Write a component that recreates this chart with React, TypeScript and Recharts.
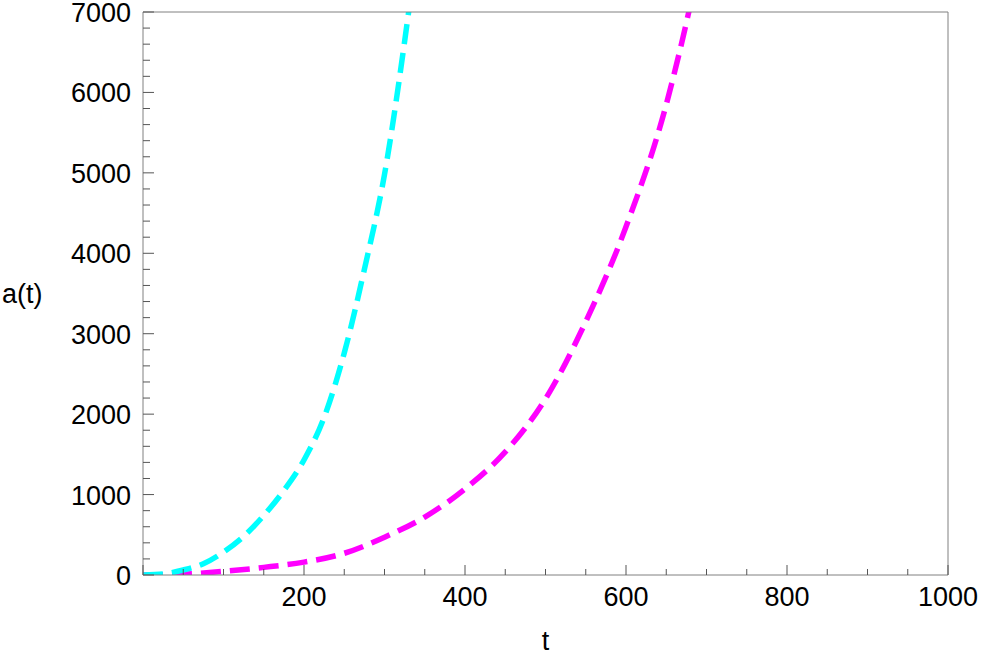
import { LineChart, Line, XAxis, YAxis, Label } from 'recharts'

const tCyan = [0, 25, 50, 75, 100, 125, 150, 175, 200, 225, 250, 275, 300, 330, 340]
const aCyan = [0, 12, 62, 140, 285, 480, 740, 1050, 1430, 1960, 2760, 3800, 4980, 7000, 7750]
const tMagenta = [0, 50, 100, 150, 200, 250, 300, 350, 400, 450, 500, 550, 600, 650, 678, 690]
const aMagenta = [0, 10, 45, 95, 160, 270, 470, 720, 1070, 1530, 2190, 3150, 4330, 5850, 7000, 7550]

const xTicks = Array.from({ length: 21 }, (_, i) => i * 50)
const yTicks = Array.from({ length: 36 }, (_, i) => i * 200)
const xLabels = [200, 400, 600, 800, 1000]
const yLabels = [0, 1000, 2000, 3000, 4000, 5000, 6000, 7000]

const cyanData = tCyan.map((t, i) => ({ t, a: aCyan[i] }))
const magentaData = tMagenta.map((t, i) => ({ t, a: aMagenta[i] }))

const FONT = '"Liberation Sans", Arial, sans-serif'
const FRAME = '#808080'
const TICK = '#555'

const BottomTick = (props: any) => {
  const { x, y, payload } = props
  const v = payload.value
  const major = v % 200 === 0
  return (
    <g>
      <line x1={x} x2={x} y1={y} y2={y - (major ? 10 : 6)} stroke={TICK} strokeWidth={1} />
      {xLabels.includes(v) && (
        <text x={x} y={y + 31} textAnchor="middle" fontSize={27} fontFamily={FONT} fill="#000">
          {v}
        </text>
      )}
    </g>
  )
}

const TopTick = (props: any) => {
  const { x, y, payload } = props
  const major = payload.value % 200 === 0
  return <line x1={x} x2={x} y1={y} y2={y + (major ? 10 : 6)} stroke={TICK} strokeWidth={1} />
}

const LeftTick = (props: any) => {
  const { x, y, payload } = props
  const v = payload.value
  const major = v % 1000 === 0
  return (
    <g>
      <line x1={x} x2={x + (major ? 11 : 7)} y1={y} y2={y} stroke={TICK} strokeWidth={1} />
      {yLabels.includes(v) && (
        <text x={x - 12} y={y + 10} textAnchor="end" fontSize={27} fontFamily={FONT} fill="#000">
          {v}
        </text>
      )}
    </g>
  )
}

const RightTick = (props: any) => {
  const { x, y, payload } = props
  const major = payload.value % 1000 === 0
  return <line x1={x} x2={x - (major ? 11 : 7)} y1={y} y2={y} stroke={TICK} strokeWidth={1} />
}

export default function App() {
  return (
    <div style={{ position: 'absolute', left: 0, top: 0, background: '#fff' }}>
      <LineChart width={981} height={654} margin={{ top: 0, right: 0, bottom: 0, left: 0 }}>
        <XAxis
          dataKey="t"
          type="number"
          domain={[0, 1000]}
          ticks={xTicks}
          interval={0}
          height={79}
          tickSize={0}
          tickMargin={0}
          tickLine={false}
          axisLine={{ stroke: FRAME }}
          tick={<BottomTick />}
          allowDataOverflow
        >
          <Label value="t" position="insideBottom" offset={4} fontSize={27} fontFamily={FONT} fill="#000" />
        </XAxis>
        <XAxis
          xAxisId="top"
          orientation="top"
          dataKey="t"
          type="number"
          domain={[0, 1000]}
          ticks={xTicks}
          interval={0}
          height={12}
          tickSize={0}
          tickMargin={0}
          tickLine={false}
          axisLine={{ stroke: FRAME }}
          tick={<TopTick />}
        />
        <YAxis
          type="number"
          domain={[0, 7000]}
          ticks={yTicks}
          interval={0}
          width={143}
          tickSize={0}
          tickMargin={0}
          tickLine={false}
          axisLine={{ stroke: FRAME }}
          tick={<LeftTick />}
          allowDataOverflow
        >
          <Label value="a(t)" position="insideLeft" offset={2} fontSize={27} fontFamily={FONT} fill="#000" />
        </YAxis>
        <YAxis
          yAxisId="right"
          orientation="right"
          type="number"
          domain={[0, 7000]}
          ticks={yTicks}
          interval={0}
          width={33}
          tickSize={0}
          tickMargin={0}
          tickLine={false}
          axisLine={{ stroke: FRAME }}
          tick={<RightTick />}
        />
        <Line
          data={magentaData}
          dataKey="a"
          type="monotone"
          stroke="#ff00ff"
          strokeWidth={5.5}
          strokeDasharray="20 9"
          dot={false}
          activeDot={false}
          isAnimationActive={false}
        />
        <Line
          data={cyanData}
          dataKey="a"
          type="monotone"
          stroke="#00ffff"
          strokeWidth={5.5}
          strokeDasharray="20 9"
          dot={false}
          activeDot={false}
          isAnimationActive={false}
        />
      </LineChart>
    </div>
  )
}
